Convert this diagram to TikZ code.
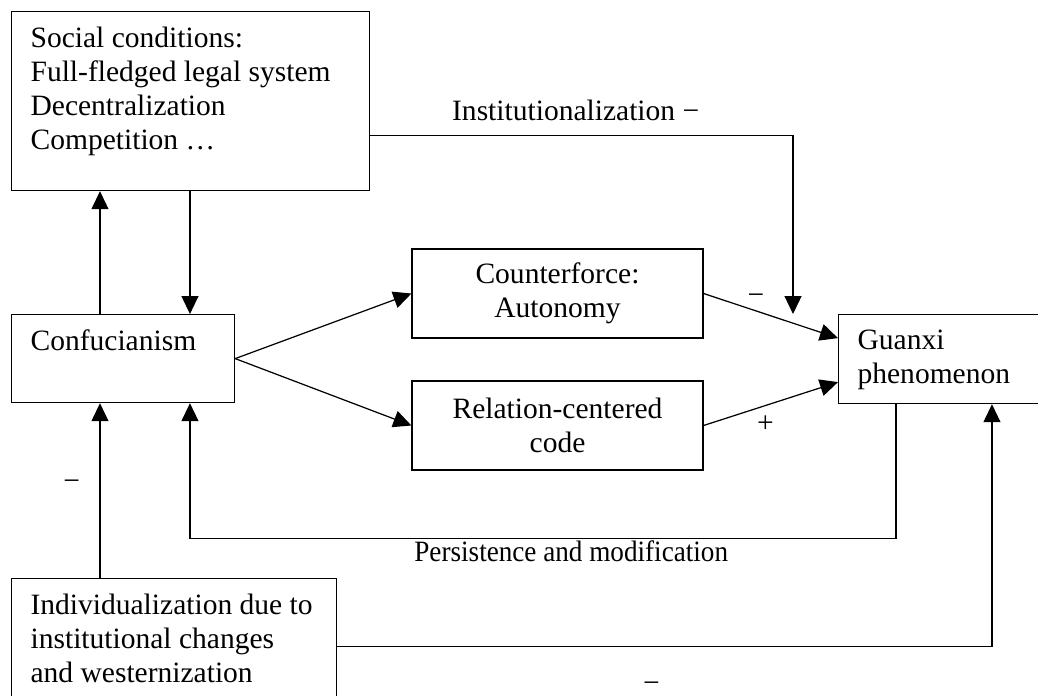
\documentclass[tikz,border=0pt]{standalone}
\usepackage{fontspec}
\setmainfont{Liberation Serif}
\usetikzlibrary{arrows.meta}

\begin{document}
\begin{tikzpicture}[
  x=0.02cm, y=-0.02cm,
  font=\fontsize{16.8}{19.4}\selectfont,
  box/.style={draw, line width=0.7pt, anchor=north west, inner xsep=0.38cm, inner ysep=0.31cm},
  mid/.style={draw, line width=0.7pt, align=center, minimum width=5.82cm, minimum height=1.78cm},
  arrow/.style={-{Triangle[length=3.6mm, width=3.4mm]}, line width=0.7pt},
  sign/.style={inner sep=1pt}
]
\clip (0,0) rectangle (1038,696);

\node[box] (social) at (11,11) {\parbox[t][2.96cm][t]{6.4cm}{\raggedright Social conditions:\\Full-fledged legal system\\Decentralization\\Competition …}};
\node[box] (conf) at (11,314) {\parbox[t][1.14cm][t]{3.7cm}{Confucianism}};
\node[mid] (counter) at (557.5,293.5) {Counterforce:\\Autonomy};
\node[mid] (code) at (557.5,425.5) {Relation-centered\\code};
\node[box] (guanxi) at (838,314) {\parbox[t][1.16cm][t]{3.84cm}{\raggedright Guanxi\\phenomenon}};
\node[box] (indiv) at (11,578) {\parbox[t][2.10cm][t]{5.74cm}{\raggedright Individualization due to\\institutional changes\\and westernization}};

\draw[arrow] ([xshift=1.78cm]conf.north west) -- ([xshift=1.78cm]social.south west);
\draw[arrow] ([xshift=3.58cm]social.south west) -- ([xshift=3.58cm]conf.north west);
\draw[arrow] ([yshift=-0.69cm]social.east) -| node[above=4.5pt, pos=0.243] {Institutionalization −} ([xshift=-0.9cm]guanxi.north west);

\draw[arrow] (conf.east) -- (counter.west);
\draw[arrow] (conf.east) -- (code.west);
\draw[arrow] (counter.east) -- node[sign, above=2.2pt, pos=0.39] {−} ([yshift=0.42cm]guanxi.west);
\draw[arrow] (code.east) -- node[sign, below=4.4pt, pos=0.46] {+} ([yshift=-0.46cm]guanxi.west);

\draw[arrow] ([xshift=1.16cm]guanxi.south west) -- ++(0,134) -| node[below, inner sep=1pt, pos=0.23] {\scalebox{0.92}[1]{Persistence and modification}} ([xshift=3.58cm]conf.south west);

\draw[arrow] ([xshift=1.78cm]indiv.north west) -- node[sign, left=10pt, pos=0.53] {−} ([xshift=1.78cm]conf.south west);
\draw[arrow] (indiv.east) -| node[sign, below=19pt, pos=0.24] {−} ([xshift=3.08cm]guanxi.south west);

\end{tikzpicture}
\end{document}
